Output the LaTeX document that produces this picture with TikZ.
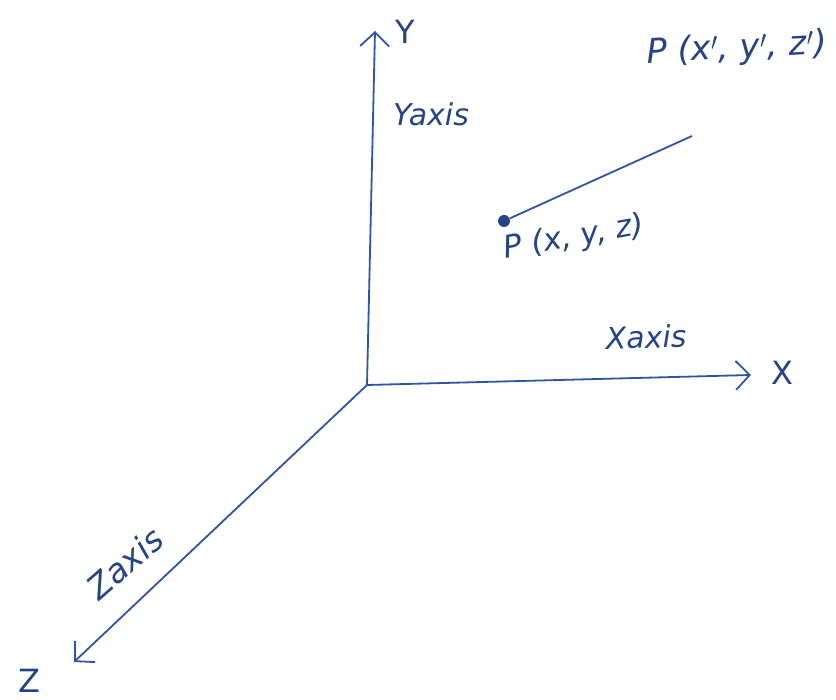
\documentclass[tikz,border=0pt]{standalone}
\usepackage{fontspec}
\setmainfont{DejaVu Sans}
\usetikzlibrary{arrows.meta}
\definecolor{inkblue}{RGB}{45,85,165}
\tikzset{axis/.style={draw=inkblue,line width=1.8pt,-{Straight Barb[length=14pt,width=29pt]}},
  hand/.style={text=inkblue!80!black,inner sep=0pt,font=\itshape\fontsize{30}{32}\selectfont},
  coordlabel/.style={hand,font=\itshape\fontsize{31}{33}\selectfont},
  bigletter/.style={hand,font=\fontsize{32}{34}\selectfont}}
\begin{document}
\begin{tikzpicture}[x=1pt,y=-1pt]
  \useasboundingbox (0,0) rectangle (836,700);
  % Axes
  \coordinate (origin) at (367,385);
  \coordinate (yend) at (375,31);
  \coordinate (xend) at (751,375);
  \coordinate (zend) at (74,662);
  \draw[axis] (origin) -- (yend);
  \draw[axis] (origin) -- (xend);
  \draw[axis] (origin) -- (zend);
  \node[bigletter] (ylabel) at (405,32) {Y};
  \node[bigletter] (xlabel) at (782,373) {X};
  \node[bigletter] (zlabel) at (29,681) {Z};
  \node[hand] (yaxis) at (431,114) {Yaxis};
  \node[hand,rotate=2] (xaxis) at (646,337) {Xaxis};
  \node[hand,rotate=41,font=\itshape\fontsize{33}{35}\selectfont] (zaxis) at (125,563) {Zaxis};
  % Line segment
  \node[circle,fill=inkblue!80!black,inner sep=0pt,minimum size=12pt] (p) at (504,221) {};
  \coordinate (q) at (692,136);
  \draw[inkblue,line width=1.8pt] (p) -- (q);
  \node[coordlabel,rotate=10] (plabel) at (574,238) {P (x, y, z)};
  \node[coordlabel,rotate=3,font=\itshape\fontsize{34}{36}\selectfont] (qlabel) at (737,49) {P (x$'$, y$'$, z$'$)};
\end{tikzpicture}
\end{document}
